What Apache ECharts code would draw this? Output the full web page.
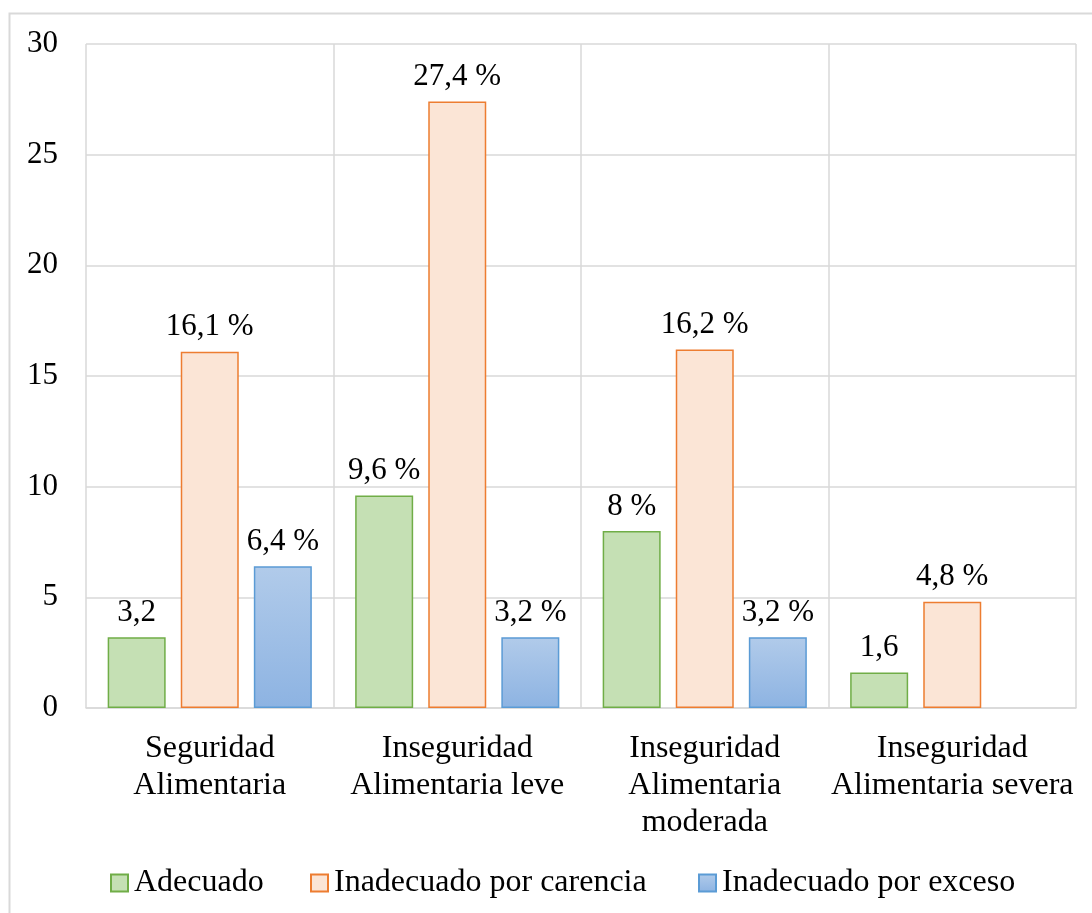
<!DOCTYPE html>
<html><head><meta charset="utf-8">
<script src="https://cdn.jsdelivr.net/npm/echarts@6/dist/echarts.min.js"></script>
<style>html,body{margin:0;padding:0;background:#fff}#c{width:1092px;height:913px}</style>
</head><body><div id="c"></div>
<script>
const categories = ['Seguridad\nAlimentaria', 'Inseguridad\nAlimentaria leve', 'Inseguridad\nAlimentaria\nmoderada', 'Inseguridad\nAlimentaria severa'];
const seriesNames = ['Adecuado', 'Inadecuado por carencia', 'Inadecuado por exceso'];
const adecuado = [3.2, 9.6, 8, 1.6];
const carencia = [16.1, 27.4, 16.2, 4.8];
const exceso = [6.4, 3.2, 3.2, null];
const adecuadoLabels = ['3,2', '9,6 %', '8 %', '1,6'];
const carenciaLabels = ['16,1 %', '27,4 %', '16,2 %', '4,8 %'];
const excesoLabels = ['6,4 %', '3,2 %', '3,2 %', ''];
const yTicks = [0, 5, 10, 15, 20, 25, 30];

const font = '"Liberation Serif", "Times New Roman", serif';
const fs = 31;
const fsL = 32;
const chart = echarts.init(document.getElementById('c'), null, {renderer: 'canvas'});
function lbl(arr) {
  return {show: true, position: 'top', distance: 9, color: '#000', fontFamily: font, fontSize: fs,
    formatter: p => arr[p.dataIndex]};
}
const legendLefts = [110, 310, 698];
chart.setOption({
  backgroundColor: '#fff',
  animation: false,
  graphic: [{type: 'rect', shape: {x: 9.5, y: 13.5, width: 1100, height: 920}, style: {fill: null, stroke: '#d9d9d9', lineWidth: 2}, silent: true, z: -1}],
  grid: {left: 86, right: 16, top: 44, bottom: 205, containLabel: false},
  legend: seriesNames.map((n, i) => ({
    bottom: 14, left: legendLefts[i], itemWidth: 17, itemHeight: 17, padding: 0,
    icon: 'rect',
    textStyle: {fontFamily: font, fontSize: fsL, color: '#000', padding: [0, 0, 0, 1]},
    data: [n]
  })),
  xAxis: {
    type: 'category', data: categories,
    axisLine: {lineStyle: {color: '#d9d9d9', width: 1.5}},
    axisTick: {show: false},
    splitLine: {show: true, lineStyle: {color: '#d9d9d9', width: 1.5}},
    axisLabel: {color: '#000', fontFamily: font, fontSize: fsL, lineHeight: 37, margin: 22, interval: 0}
  },
  yAxis: {
    type: 'value', min: yTicks[0], max: yTicks[yTicks.length - 1], interval: 5,
    axisLine: {show: false}, axisTick: {show: false},
    splitLine: {lineStyle: {color: '#d9d9d9', width: 1.5}},
    axisLabel: {color: '#000', fontFamily: font, fontSize: fs, margin: 28}
  },
  series: [
    {name: seriesNames[0], type: 'bar', data: adecuado, barWidth: 58, barGap: '26%',
      itemStyle: {color: '#c5e0b4', borderColor: '#70ad47', borderWidth: 1.5}, label: lbl(adecuadoLabels)},
    {name: seriesNames[1], type: 'bar', data: carencia, barWidth: 58, barGap: '26%',
      itemStyle: {color: '#fbe5d6', borderColor: '#ed7d31', borderWidth: 1.5}, label: lbl(carenciaLabels)},
    {name: seriesNames[2], type: 'bar', data: exceso, barWidth: 58, barGap: '26%',
      itemStyle: {color: new echarts.graphic.LinearGradient(0, 0, 0, 1, [{offset: 0, color: '#b1cbea'}, {offset: 1, color: '#8db3e2'}]), borderColor: '#5b9bd5', borderWidth: 1.5}, label: lbl(excesoLabels)}
  ]
});
</script></body></html>
